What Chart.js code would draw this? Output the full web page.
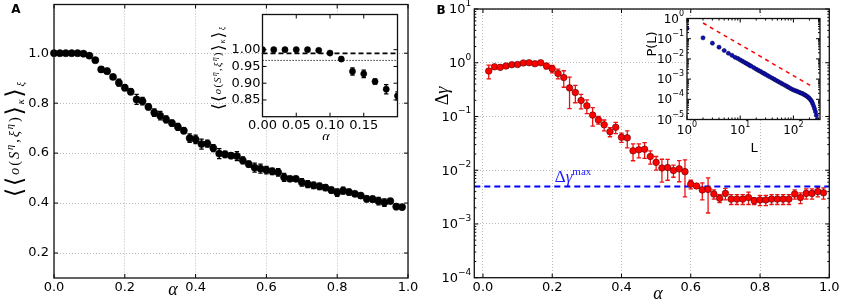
<!DOCTYPE html>
<html>
<head>
<meta charset="utf-8">
<script src="https://cdn.jsdelivr.net/npm/chart.js@4.4.0/dist/chart.umd.min.js"></script>
<style>
  html, body { margin: 0; padding: 0; background: #fff; }
  #wrap { position: relative; width: 843px; height: 301px; overflow: hidden; }
  canvas { position: absolute; }
</style>
</head>
<body>
<div id="wrap">
  <canvas id="mainA" width="420" height="301" style="left:0px;top:0px"></canvas>
  <canvas id="insetA" width="202" height="130" style="left:200px;top:10px"></canvas>
  <canvas id="mainB" width="421" height="301" style="left:422px;top:0px"></canvas>
  <canvas id="insetB" width="190" height="145" style="left:640px;top:10px"></canvas>
</div>
<script>
// ---- panel A: overlap vs alpha ----
const alphaA = [0.0000, 0.0167, 0.0333, 0.0500, 0.0667, 0.0833, 0.1000, 0.1167, 0.1333, 0.1500,
  0.1667, 0.1833, 0.2000, 0.2167, 0.2333, 0.2500, 0.2667, 0.2833, 0.3000, 0.3167,
  0.3333, 0.3500, 0.3667, 0.3833, 0.4000, 0.4167, 0.4333, 0.4500, 0.4667, 0.4833,
  0.5000, 0.5167, 0.5333, 0.5500, 0.5667, 0.5833, 0.6000, 0.6167, 0.6333, 0.6500,
  0.6667, 0.6833, 0.7000, 0.7167, 0.7333, 0.7500, 0.7667, 0.7833, 0.8000, 0.8167,
  0.8333, 0.8500, 0.8667, 0.8833, 0.9000, 0.9167, 0.9333, 0.9500, 0.9667, 0.9833];
const overlapA = [1.000, 1.000, 1.000, 1.000, 1.000, 0.998, 0.990, 0.972, 0.935, 0.928,
  0.905, 0.882, 0.862, 0.846, 0.815, 0.808, 0.785, 0.762, 0.750, 0.735,
  0.720, 0.705, 0.690, 0.660, 0.655, 0.636, 0.638, 0.620, 0.598, 0.595,
  0.590, 0.588, 0.571, 0.556, 0.542, 0.538, 0.532, 0.527, 0.523, 0.503,
  0.497, 0.497, 0.483, 0.476, 0.471, 0.467, 0.462, 0.452, 0.442, 0.450,
  0.444, 0.437, 0.430, 0.417, 0.416, 0.408, 0.402, 0.408, 0.386, 0.384];
const overlapErrA = [0.002, 0.002, 0.002, 0.002, 0.002, 0.003, 0.004, 0.006, 0.011, 0.011,
  0.008, 0.014, 0.012, 0.012, 0.020, 0.015, 0.012, 0.015, 0.017, 0.014,
  0.012, 0.014, 0.012, 0.017, 0.017, 0.020, 0.014, 0.014, 0.020, 0.013,
  0.012, 0.018, 0.014, 0.012, 0.018, 0.018, 0.015, 0.013, 0.015, 0.016,
  0.010, 0.010, 0.015, 0.014, 0.013, 0.013, 0.012, 0.012, 0.015, 0.014,
  0.012, 0.010, 0.010, 0.012, 0.012, 0.015, 0.015, 0.010, 0.012, 0.010];
const insetDashedLevel = 0.989;
const insetDottedLevel = 0.968;

// ---- panel B: delta gamma vs alpha ----
const alphaB = [0.0167, 0.0333, 0.0500, 0.0667, 0.0833, 0.1000, 0.1167, 0.1333, 0.1500,
  0.1667, 0.1833, 0.2000, 0.2167, 0.2333, 0.2500, 0.2667, 0.2833, 0.3000, 0.3167,
  0.3333, 0.3500, 0.3667, 0.3833, 0.4000, 0.4167, 0.4333, 0.4500, 0.4667, 0.4833,
  0.5000, 0.5167, 0.5333, 0.5500, 0.5667, 0.5833, 0.6000, 0.6167, 0.6333, 0.6500,
  0.6667, 0.6833, 0.7000, 0.7167, 0.7333, 0.7500, 0.7667, 0.7833, 0.8000, 0.8167,
  0.8333, 0.8500, 0.8667, 0.8833, 0.9000, 0.9167, 0.9333, 0.9500, 0.9667, 0.9833];
const deltaGamma = [0.70, 0.84, 0.82, 0.87, 0.92, 0.93, 0.99, 1.00, 0.96,
  1.00, 0.87, 0.77, 0.63, 0.53, 0.34, 0.28, 0.198, 0.158, 0.106,
  0.086, 0.070, 0.052, 0.063, 0.041, 0.040, 0.023, 0.024, 0.0246, 0.018,
  0.014, 0.011, 0.0112, 0.0099, 0.0106, 0.0094, 0.0055, 0.0051, 0.0043, 0.0044,
  0.0036, 0.0030, 0.0037, 0.0029, 0.0029, 0.0029, 0.0031, 0.0027, 0.0028, 0.0028,
  0.0029, 0.0029, 0.0029, 0.0029, 0.0036, 0.0031, 0.0037, 0.0037, 0.0040, 0.0038];
const deltaGammaErr = [0.20, 0.07, 0.07, 0.07, 0.06, 0.06, 0.05, 0.05, 0.05,
  0.05, 0.10, 0.12, 0.13, 0.18, 0.20, 0.10, 0.06, 0.045, 0.04,
  0.014, 0.016, 0.010, 0.015, 0.008, 0.014, 0.008, 0.007, 0.008, 0.005,
  0.004, 0.005, 0.0047, 0.0025, 0.0045, 0.0062, 0.0010, 0.0005, 0.0015, 0.0028,
  0.0007, 0.0005, 0.0009, 0.0006, 0.0006, 0.0006, 0.0008, 0.0004, 0.0006, 0.0006,
  0.0006, 0.0006, 0.0006, 0.0006, 0.0007, 0.0007, 0.0008, 0.0008, 0.0008, 0.0009];
const deltaGammaMaxX = [-0.025, 1.0];
const deltaGammaMaxY = [0.005, 0.005];

// ---- inset B: P(L) ----
const lengthL = [1, 2, 3, 4, 5, 6, 7, 8, 9, 10, 11, 12, 13, 14, 15, 16, 18, 20, 22, 24, 26, 28, 30,
  33, 36, 40, 44, 48, 52, 57, 62, 68, 74, 80, 87, 95, 103, 112, 120, 130, 140, 150, 160,
  170, 180, 190, 200, 210, 220, 230, 240, 250, 260, 270, 280, 290];
const probL = [0.32, 0.11, 0.06, 0.038, 0.026, 0.019, 0.015, 0.012, 0.0105, 0.0089, 0.0077, 0.0068,
  0.0060, 0.0054, 0.0048, 0.0044, 0.0037, 0.0031, 0.0027, 0.0024, 0.0021, 0.0019, 0.0017,
  0.00148, 0.0013, 0.00111, 0.00096, 0.00085, 0.00075, 0.00066, 0.00058, 0.00051, 0.00045,
  0.00040, 0.00035, 0.00031, 0.00028, 0.00026, 0.00024, 0.00022, 0.00020, 0.00019, 0.00017,
  0.000155, 0.00014, 0.000125, 0.00011, 0.000095, 0.00008, 0.000062, 0.000046, 0.000034,
  0.000024, 0.000016, 0.00001, 0.000006];
const powerLawL = [2, 220];
const powerLawP = [0.6, 0.00044];

// ---- ticks ----
const ticksAx = [0, 0.2, 0.4, 0.6, 0.8, 1.0];
const ticksAy = [0.2, 0.4, 0.6, 0.8, 1.0];
const ticksInsetAx = [0, 0.05, 0.10, 0.15];
const ticksInsetAy = [0.85, 0.90, 0.95, 1.00];
const ticksBx = [0, 0.2, 0.4, 0.6, 0.8, 1.0];
const decadesBy = [-4, -3, -2, -1, 0, 1];
const decadesInsetBx = [0, 1, 2];
const decadesInsetBy = [-5, -4, -3, -2, -1, 0];

Chart.defaults.font.family = '"DejaVu Sans"';
Chart.defaults.font.size = 13;
Chart.defaults.color = '#000';

const SERIF = '"Liberation Serif"';
const GRID = '#a8a8a8';

function pts(xs, ys) { return xs.map((x, i) => ({ x: x, y: ys[i] })); }

// parts: [{t, f(size) -> font, dy(size), c}], centred at (x, y); target = total length, spread with gaps
function drawRich(ctx, parts, x, y, rot, size, target) {
  ctx.save();
  ctx.translate(x, y);
  ctx.rotate(rot || 0);
  const s = size || 12;
  let w = 0;
  parts.forEach(p => { ctx.font = p.f(s); w += ctx.measureText(p.t).width; });
  const gap = target && parts.length > 1 ? Math.max(0, (target - w) / (parts.length - 1)) : 0;
  let cx = -(w + gap * (parts.length - 1)) / 2;
  ctx.textAlign = 'left';
  ctx.textBaseline = 'alphabetic';
  parts.forEach(p => {
    ctx.font = p.f(s);
    ctx.fillStyle = p.c || '#000';
    ctx.fillText(p.t, cx, p.dy(s));
    cx += ctx.measureText(p.t).width + gap;
  });
  ctx.restore();
}

const it = s => `italic ${s.toFixed(1)}px ${SERIF}`;
const up = s => `${s.toFixed(1)}px ${SERIF}`;
const sm = s => `italic ${(s * 0.72).toFixed(1)}px ${SERIF}`;
const br = s => `${(s * 1.6).toFixed(1)}px "DejaVu Sans"`;
const base = s => s * 0.33;
const overlapLabel = [
  { t: '\u27E8', f: br, dy: s => base(s) + s * 0.2 }, { t: '\u27E8', f: br, dy: s => base(s) + s * 0.2 },
  { t: 'o', f: it, dy: base }, { t: '(', f: up, dy: base }, { t: 'S', f: it, dy: base },
  { t: '\u03B7', f: sm, dy: s => base(s) - s * 0.4 }, { t: ',', f: up, dy: base },
  { t: '\u03BE', f: it, dy: base }, { t: '\u03B7', f: sm, dy: s => base(s) - s * 0.4 },
  { t: ')', f: up, dy: base }, { t: '\u27E9', f: br, dy: s => base(s) + s * 0.2 },
  { t: '\u03BA', f: sm, dy: s => base(s) + s * 0.35 }, { t: '\u27E9', f: br, dy: s => base(s) + s * 0.2 },
  { t: '\u03BE', f: sm, dy: s => base(s) + s * 0.35 }
];

function drawPow(ctx, exp, x, y, align, size) {
  const sup = String(exp).replace('-', '\u2212');
  ctx.save();
  ctx.font = `${size}px "DejaVu Sans"`;
  const bw = ctx.measureText('10').width;
  ctx.font = `${Math.round(size * 0.7)}px "DejaVu Sans"`;
  const sw = ctx.measureText(sup).width;
  const x0 = align === 'right' ? x - bw - sw : x - (bw + sw) / 2;
  ctx.fillStyle = '#000';
  ctx.textAlign = 'left';
  ctx.textBaseline = 'middle';
  ctx.font = `${size}px "DejaVu Sans"`;
  ctx.fillText('10', x0, y + 1);
  ctx.font = `${Math.round(size * 0.7)}px "DejaVu Sans"`;
  ctx.fillText(sup, x0 + bw, y - size * 0.42);
  ctx.restore();
}

// frame, inward ticks, error bars, texts
const decor = {
  id: 'decor',
  beforeDraw(chart, args, o) {
    if (!o.fill) return;
    const a = chart.chartArea, c = chart.ctx;
    c.save();
    c.fillStyle = '#fff';
    c.fillRect(a.left, a.top, a.right - a.left, a.bottom - a.top);
    c.restore();
  },
  beforeDatasetsDraw(chart) {
    const c = chart.ctx, a = chart.chartArea;
    const xs = chart.scales.x, ys = chart.scales.y;
    c.save();
    c.beginPath();
    c.rect(a.left, a.top, a.right - a.left, a.bottom - a.top);
    c.clip();
    chart.data.datasets.forEach(ds => {
      if (!ds.errors) return;
      c.strokeStyle = ds.errColor;
      c.lineWidth = 1.3;
      ds.data.forEach((p, i) => {
        const e = ds.errors[i];
        const px = xs.getPixelForValue(p.x);
        const lo = Math.max(p.y - e, 1e-9);
        const y1 = ys.getPixelForValue(lo), y2 = ys.getPixelForValue(p.y + e);
        c.beginPath();
        c.moveTo(px, y1); c.lineTo(px, y2);
        c.moveTo(px - 2.2, y1); c.lineTo(px + 2.2, y1);
        c.moveTo(px - 2.2, y2); c.lineTo(px + 2.2, y2);
        c.stroke();
      });
    });
    c.restore();
  },
  afterDraw(chart, args, o) {
    const c = chart.ctx, a = chart.chartArea;
    const xs = chart.scales.x, ys = chart.scales.y;
    c.save();
    c.strokeStyle = '#000';
    c.lineWidth = 1;
    const tick = (vals, len, axis) => {
      vals.forEach(v => {
        if (axis === 'x') {
          const p = xs.getPixelForValue(v);
          if (p < a.left - 0.5 || p > a.right + 0.5) return;
          c.beginPath();
          c.moveTo(p, a.bottom); c.lineTo(p, a.bottom - len);
          c.moveTo(p, a.top); c.lineTo(p, a.top + len);
          c.stroke();
        } else {
          const p = ys.getPixelForValue(v);
          if (p < a.top - 0.5 || p > a.bottom + 0.5) return;
          c.beginPath();
          c.moveTo(a.left, p); c.lineTo(a.left + len, p);
          c.moveTo(a.right, p); c.lineTo(a.right - len, p);
          c.stroke();
        }
      });
    };
    tick(o.xMajor || [], 4, 'x');
    tick(o.yMajor || [], 4, 'y');
    tick(o.xMinor || [], 2, 'x');
    tick(o.yMinor || [], 2, 'y');
    c.lineWidth = 1.3;
    c.strokeStyle = '#111';
    c.strokeRect(a.left, a.top, a.right - a.left, a.bottom - a.top);
    c.restore();
    (o.powY || []).forEach(e => drawPow(c, e, a.left - 3, ys.getPixelForValue(Math.pow(10, e)), 'right', o.powSize));
    (o.powX || []).forEach(e => drawPow(c, e, xs.getPixelForValue(Math.pow(10, e)), a.bottom + 10, 'center', o.powSize));
    (o.texts || []).forEach(t => drawRich(c, t.parts, t.x - o.ox, t.y - o.oy, t.rot, t.size, t.target));
  }
};

function minorDecades(d0, d1) {
  const out = [];
  for (let d = d0; d < d1; d++) for (let k = 2; k <= 9; k++) out.push(k * Math.pow(10, d));
  return out;
}

function fitAxis(size, isX) {
  return s => {
    if (isX) s.height = size; else s.width = size;
    s.paddingLeft = s.paddingRight = s.paddingTop = s.paddingBottom = 0;
  };
}

function linAxis(min, max, ticks, digits, size, isX, pad, grid) {
  return {
    type: 'linear', min: min, max: max,
    afterBuildTicks: s => { s.ticks = ticks.map(v => ({ value: v })); },
    afterFit: fitAxis(size, isX),
    grid: { display: grid, color: GRID, lineWidth: 0.8, drawTicks: false },
    border: { display: false, dash: [1, 2] },
    ticks: { callback: v => Number(v).toFixed(digits), padding: pad, maxRotation: 0, autoSkip: false }
  };
}

function logAxis(min, max, decades, size, isX, grid) {
  return {
    type: 'logarithmic', min: min, max: max,
    afterBuildTicks: s => { s.ticks = decades.map(e => ({ value: Math.pow(10, e), major: true })); },
    afterFit: fitAxis(size, isX),
    grid: { display: grid, color: GRID, lineWidth: 0.8, drawTicks: false },
    border: { display: false, dash: [1, 2] },
    ticks: { display: false }
  };
}

function baseOptions(padding, scales, decorOpts) {
  return {
    responsive: false, animation: false, devicePixelRatio: 1, events: [],
    layout: { padding: padding },
    scales: scales,
    plugins: { legend: { display: false }, tooltip: { enabled: false }, decor: decorOpts }
  };
}

const plain = (t, font, dy, c) => ({ t: t, f: () => font, dy: () => dy, c: c });

// ---------- main A ----------
new Chart(document.getElementById('mainA'), {
  type: 'scatter',
  data: {
    datasets: [{
      data: pts(alphaA, overlapA), errors: overlapErrA, errColor: '#000',
      pointRadius: 3.6, pointBackgroundColor: '#000', pointBorderColor: '#000', pointBorderWidth: 0.5,
      clip: false
    }]
  },
  options: baseOptions({ left: 0, top: 3.5, right: 12, bottom: 0 }, {
    x: linAxis(0, 1, ticksAx, 1, 23, true, 2, true),
    y: linAxis(0.1, 1.195, ticksAy, 1, 54, false, 5, true)
  }, {
    ox: 0, oy: 0, xMajor: ticksAx, yMajor: ticksAy,
    texts: [
      { parts: [plain('A', 'bold 12px "DejaVu Sans"', 4)], x: 16, y: 9 },
      { parts: [plain('\u03B1', `italic 18px ${SERIF}`, 4)], x: 173, y: 291 },
      { parts: overlapLabel, x: 14, y: 139.5, rot: -Math.PI / 2, size: 14.5, target: 115 }
    ]
  }),
  plugins: [decor]
});

// ---------- inset A ----------
new Chart(document.getElementById('insetA'), {
  type: 'scatter',
  data: {
    datasets: [{
      data: pts(alphaA, overlapA), errors: overlapErrA, errColor: '#000',
      pointRadius: 3.1, pointBackgroundColor: '#000', pointBorderColor: '#000', pointBorderWidth: 0.5,
      clip: 0
    }, {
      data: pts([0, 0.2], [insetDashedLevel, insetDashedLevel]), showLine: true, pointRadius: 0,
      borderColor: '#000', borderWidth: 1.6, borderDash: [5, 3], clip: 0
    }, {
      data: pts([0, 0.2], [insetDottedLevel, insetDottedLevel]), showLine: true, pointRadius: 0,
      borderColor: '#000', borderWidth: 1, borderDash: [1.2, 1.8], clip: 0
    }]
  },
  options: baseOptions({ left: 0, top: 3.3, right: 2.5, bottom: 0 }, {
    x: linAxis(0, 0.2, ticksInsetAx, 2, 23.3, true, 1.5, false),
    y: linAxis(0.80, 1.105, ticksInsetAy, 2, 62.5, false, 2, false)
  }, {
    fill: true, ox: 200, oy: 10, xMajor: ticksInsetAx.concat([0.2]), yMajor: ticksInsetAy,
    texts: [
      { parts: [plain('\u03B1', `italic 14px ${SERIF}`, 4)], x: 326, y: 137 },
      { parts: overlapLabel, x: 218, y: 68.5, rot: -Math.PI / 2, size: 10.5, target: 83 }
    ]
  }),
  plugins: [decor]
});

// ---------- main B ----------
new Chart(document.getElementById('mainB'), {
  type: 'scatter',
  data: {
    datasets: [{
      data: pts(alphaB, deltaGamma), errors: deltaGammaErr, errColor: '#ee1111',
      pointRadius: 3.3, pointBackgroundColor: '#ff0000', pointBorderColor: '#550000', pointBorderWidth: 0.6,
      clip: false
    }, {
      data: pts(deltaGammaMaxX, deltaGammaMaxY), showLine: true, pointRadius: 0,
      borderColor: '#0000ff', borderWidth: 2, borderDash: [6, 4]
    }]
  },
  options: baseOptions({ left: 0, top: 9, right: 13.7, bottom: 0 }, {
    x: linAxis(-0.025, 1, ticksBx, 1, 23.3, true, 2, true),
    y: logAxis(1e-4, 10, decadesBy, 52.3, false, true)
  }, {
    ox: 422, oy: 0, xMajor: ticksBx, yMajor: decadesBy.map(e => Math.pow(10, e)),
    yMinor: minorDecades(-4, 1), powY: decadesBy, powSize: 13,
    texts: [
      { parts: [plain('B', 'bold 12px "DejaVu Sans"', 4)], x: 441, y: 10 },
      { parts: [plain('\u03B1', `italic 18px ${SERIF}`, 4)], x: 658, y: 295 },
      { parts: [plain('\u0394', `18px ${SERIF}`, 6), plain('\u03B3', `italic 18px ${SERIF}`, 6)],
        x: 442, y: 96, rot: -Math.PI / 2 },
      { parts: [plain('\u0394', `17px ${SERIF}`, 5, '#1a1aff'),
                plain('\u03B3', `italic 17px ${SERIF}`, 5, '#1a1aff'),
                plain('max', `11px ${SERIF}`, -2, '#1a1aff')], x: 573, y: 177 }
    ]
  }),
  plugins: [decor]
});

// ---------- inset B ----------
new Chart(document.getElementById('insetB'), {
  type: 'scatter',
  data: {
    datasets: [{
      data: pts(lengthL, probL),
      pointRadius: 2.1, pointBackgroundColor: '#1010c0', pointBorderColor: '#000030', pointBorderWidth: 0.5,
      clip: 0
    }, {
      data: pts(powerLawL, powerLawP), showLine: true, pointRadius: 0,
      borderColor: '#ff0000', borderWidth: 1.5, borderDash: [4, 4], clip: 0
    }]
  },
  options: baseOptions({ left: 0, top: 8.5, right: 10, bottom: 0 }, {
    x: logAxis(1, 316.2, decadesInsetBx, 35.5, true, false),
    y: logAxis(1e-5, 1, decadesInsetBy, 47, false, false)
  }, {
    fill: true, ox: 640, oy: 10,
    xMajor: decadesInsetBx.map(e => Math.pow(10, e)), yMajor: decadesInsetBy.map(e => Math.pow(10, e)),
    xMinor: minorDecades(0, 3), yMinor: minorDecades(-5, 0), powX: decadesInsetBx, powY: decadesInsetBy, powSize: 12,
    texts: [
      { parts: [plain('L', '13px "DejaVu Sans"', 5)], x: 754, y: 147 },
      { parts: [plain('P(L)', '13px "DejaVu Sans"', 5)], x: 651, y: 44, rot: -Math.PI / 2 }
    ]
  }),
  plugins: [decor]
});
</script>
</body>
</html>
